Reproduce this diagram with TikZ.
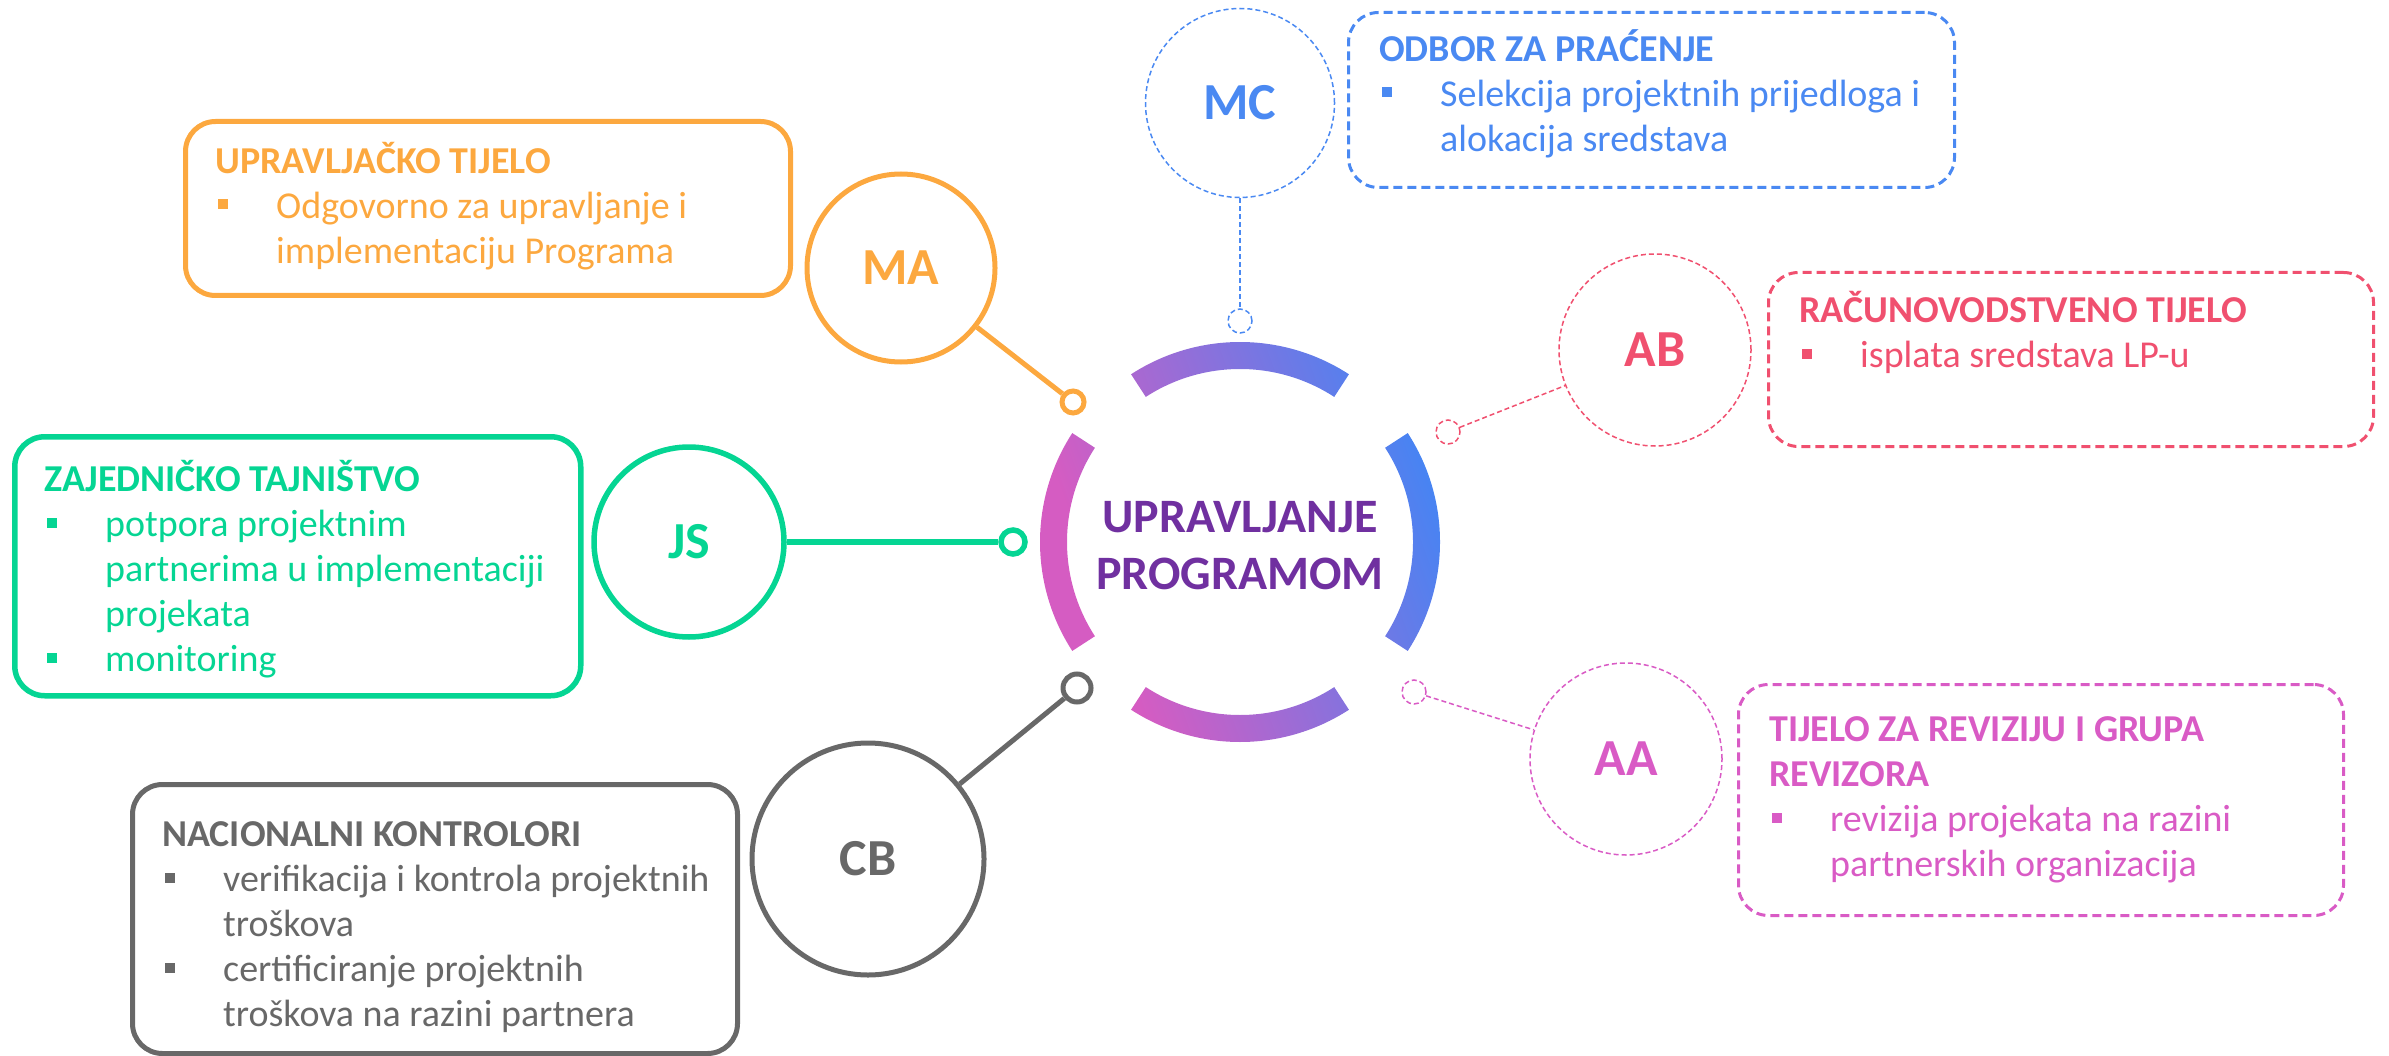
\documentclass[tikz,border=0pt]{standalone}
\usepackage{fontspec}
\setmainfont{Carlito}
\usetikzlibrary{calc}

\definecolor{maorange}{HTML}{FCA83F}
\definecolor{jsgreen}{HTML}{05D593}
\definecolor{cbgray}{HTML}{686868}
\definecolor{mcblue}{HTML}{4A89F2}
\definecolor{abpink}{HTML}{F0506F}
\definecolor{aapink}{HTML}{D95BC5}
\definecolor{ctrpurple}{HTML}{7030A0}
\definecolor{ringblue}{HTML}{4385F4}
\definecolor{ringmag}{HTML}{D55CC2}

\pgfdeclarehorizontalshading{ringshade}{100bp}{color(0bp)=(ringmag); color(32bp)=(ringmag); color(75bp)=(ringblue); color(100bp)=(ringblue)}

\newcommand{\bul}{\makebox[61pt][l]{\hspace{3pt}\rule[9pt]{10pt}{10pt}}}
\newcommand{\ind}{\hspace*{61pt}}

\begin{document}
\begin{tikzpicture}[x=1pt,y=-1pt]
  \useasboundingbox (0,0) rectangle (2389,1056);
  \tikzstyle{box} = [rounded corners=30pt, inner sep=0, anchor=north west]
  \tikzstyle{solidbox} = [box, line width=5pt]
  \tikzstyle{dashbox} = [box, line width=3pt, dash pattern=on 9pt off 5pt]
  \tikzstyle{boxtext} = [anchor=north west, inner sep=0, align=left, font=\fontsize{38}{45}\selectfont]
  \tikzstyle{ring} = [circle, inner sep=0, font=\fontsize{52}{60}\selectfont\bfseries]
  \tikzstyle{dot} = [circle, inner sep=0, minimum size=24pt]
  \tikzstyle{thin} = [line width=1.5pt, dash pattern=on 5pt off 3pt]

  % centre
  \coordinate (ctr) at (1240,542);
  \shade[shading=ringshade, shading angle=20]
    \foreach \a in {57,147,237,327} {
      ($(ctr)+(\a:200pt)$) arc[start angle=\a, end angle=\a+66, radius=200pt]
      -- ($(ctr)+({\a+66}:173pt)$) arc[start angle=\a+66, end angle=\a, radius=173pt] -- cycle
    };
  \node[align=center, text=ctrpurple, font=\fontsize{48}{57}\selectfont\bfseries] (title) at (1240,546) {UPRAVLJANJE\\PROGRAMOM};

  % MA
  \node[solidbox, draw=maorange, minimum width=605pt, minimum height=174pt] (mabox) at (183,119) {};
  \node[boxtext, text=maorange] (matext) at (215,141.5) {\strut\textbf{UPRAVLJAČKO TIJELO}\\ \bul Odgovorno za upravljanje i\\ \ind implementaciju Programa};
  \node[ring, draw=maorange, text=maorange, line width=5pt, minimum size=188pt] (ma) at (901,268) {MA};
  \node[dot, draw=maorange, line width=5pt, minimum size=22pt] (madot) at (1073,402) {};
  \draw[maorange, line width=5pt] (ma) -- (madot);

  % JS
  \node[solidbox, draw=jsgreen, line width=5.5pt, minimum width=566pt, minimum height=259pt] (jsbox) at (12,434) {};
  \node[boxtext, text=jsgreen] (jstext) at (44,460) {\strut\textbf{ZAJEDNIČKO TAJNIŠTVO}\\ \bul potpora projektnim\\ \ind partnerima u implementaciji\\ \ind projekata\\ \bul monitoring};
  \node[ring, draw=jsgreen, text=jsgreen, line width=5.5pt, minimum size=190pt] (js) at (689,542) {JS};
  \node[dot, draw=jsgreen, line width=5.5pt] (jsdot) at (1013,542) {};
  \draw[jsgreen, line width=5.5pt] (js) -- (jsdot);

  % CB
  \node[solidbox, draw=cbgray, minimum width=605pt, minimum height=269pt] (cbbox) at (130,782) {};
  \node[boxtext, text=cbgray] (cbtext) at (162,815) {\strut\textbf{NACIONALNI KONTROLORI}\\ \bul verifikacija i kontrola projektnih\\ \ind troškova\\ \bul certificiranje projektnih\\ \ind troškova na razini partnera};
  \node[ring, draw=cbgray, text=cbgray, line width=5pt, minimum size=232pt] (cb) at (868,859) {CB};
  \node[dot, draw=cbgray, line width=5pt, minimum size=28pt] (cbdot) at (1077,688) {};
  \draw[cbgray, line width=5pt] (cb) -- (cbdot);

  % MC
  \node[dashbox, draw=mcblue, minimum width=606pt, minimum height=175pt] (mcbox) at (1347,11) {};
  \node[boxtext, text=mcblue] (mctext) at (1379,29) {\strut\textbf{ODBOR ZA PRAĆENJE}\\ \bul Selekcija projektnih prijedloga i\\ \ind alokacija sredstava};
  \node[ring, draw=mcblue, text=mcblue, thin, minimum size=189pt] (mc) at (1240,103) {MC};
  \node[dot, draw=mcblue, thin] (mcdot) at (1240,321) {};
  \draw[mcblue, thin] (mc) -- (mcdot);

  % AB
  \node[dashbox, draw=abpink, minimum width=605pt, minimum height=174pt] (abbox) at (1767,271) {};
  \node[boxtext, text=abpink] (abtext) at (1799,291) {\strut\textbf{RAČUNOVODSTVENO TIJELO}\\ \bul isplata sredstava LP-u};
  \node[ring, draw=abpink, text=abpink, thin, minimum size=192pt] (ab) at (1655,350) {AB};
  \node[dot, draw=abpink, thin] (abdot) at (1448,432) {};
  \draw[abpink, thin] (abdot) -- (ab);

  % AA
  \node[dashbox, draw=aapink, minimum width=605pt, minimum height=231pt] (aabox) at (1737,683) {};
  \node[boxtext, text=aapink] (aatext) at (1769,710) {\strut\textbf{TIJELO ZA REVIZIJU I GRUPA}\\ \textbf{REVIZORA}\\ \bul revizija projekata na razini\\ \ind partnerskih organizacija};
  \node[ring, draw=aapink, text=aapink, thin, minimum size=192pt] (aa) at (1626,759) {AA};
  \node[dot, draw=aapink, thin] (aadot) at (1414,692) {};
  \draw[aapink, thin] (aadot) -- (aa);
\end{tikzpicture}
\end{document}
